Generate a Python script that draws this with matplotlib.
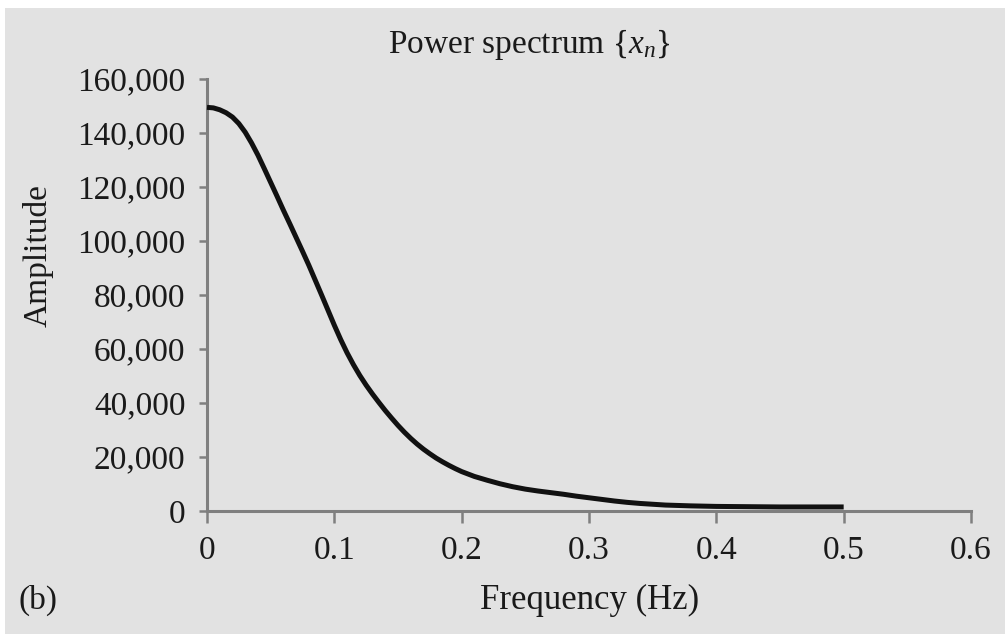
import matplotlib
matplotlib.use("Agg")
import matplotlib.pyplot as plt
from matplotlib.patches import Rectangle
from matplotlib.ticker import FuncFormatter

# Data
freq = [0.000, 0.005, 0.010, 0.015, 0.020, 0.025, 0.030, 0.035, 0.040, 0.045,
        0.050, 0.055, 0.060, 0.065, 0.070, 0.075, 0.080, 0.085, 0.090, 0.095,
        0.100, 0.105, 0.110, 0.115, 0.120, 0.125, 0.130, 0.135, 0.140, 0.145,
        0.150, 0.155, 0.160, 0.165, 0.170, 0.175, 0.180, 0.185, 0.190, 0.195,
        0.200, 0.21, 0.22, 0.23, 0.24, 0.25, 0.26, 0.27, 0.28, 0.29,
        0.30, 0.31, 0.32, 0.33, 0.34, 0.35, 0.36, 0.38, 0.40, 0.45, 0.50]
amplitude = [149500, 149300, 148600, 147500, 145900, 143500, 140300, 136300, 131800, 126800,
             121700, 116600, 111400, 106400, 101300, 96200, 91000, 85500, 80000, 74400,
             68800, 63500, 58600, 54200, 50200, 46600, 43300, 40200, 37200, 34400,
             31700, 29200, 26900, 24800, 22900, 21200, 19600, 18200, 16900, 15700,
             14600, 12800, 11400, 10100, 9000, 8100, 7400, 6800, 6200, 5500,
             4900, 4300, 3700, 3200, 2800, 2500, 2200, 1900, 1700, 1500, 1500]
xticks = [0, 0.1, 0.2, 0.3, 0.4, 0.5, 0.6]
yticks = [0, 20000, 40000, 60000, 80000, 100000, 120000, 140000, 160000]

plt.rcParams['font.family'] = ['Liberation Serif', 'DejaVu Serif']
plt.rcParams['mathtext.fontset'] = 'custom'
plt.rcParams['mathtext.rm'] = 'Liberation Serif'
plt.rcParams['mathtext.it'] = 'Liberation Serif:italic'

W, H = 1005, 634
bg = '#e2e2e2'
txt = '#1a1a1a'
spine_c = '#7f7f7f'

fig = plt.figure(figsize=(W / 100, H / 100), dpi=100)
fig.patch.set_facecolor('white')
fig.patches.append(Rectangle((5 / W, 0), 1 - 5 / W, 1 - 8 / H, transform=fig.transFigure,
                             facecolor=bg, edgecolor='none', zorder=-10))

ax = fig.add_axes([207 / W, 1 - 511 / H, (971 - 207) / W, (511 - 79) / H])
ax.set_facecolor(bg)
ax.plot(freq, amplitude, color='#111111', lw=3.6, solid_capstyle='butt',
        solid_joinstyle='round', clip_on=False, zorder=3)

ax.set_xlim(0, 0.6)
ax.set_ylim(0, 160000)
ax.set_xticks(xticks)
ax.set_yticks(yticks)
ax.xaxis.set_major_formatter(FuncFormatter(lambda v, p: '0' if v == 0 else f'{v:.1f}'))
ax.yaxis.set_major_formatter(FuncFormatter(lambda v, p: f'{int(v):,}'))

for s in ['top', 'right']:
    ax.spines[s].set_visible(False)
for s in ['left', 'bottom']:
    ax.spines[s].set_color(spine_c)
    ax.spines[s].set_linewidth(2.2)

ax.tick_params(axis='x', direction='out', length=8.5, width=1.8, color=spine_c,
               labelsize=24, labelcolor=txt, pad=9)
ax.tick_params(axis='y', direction='out', length=5.5, width=1.8, color=spine_c,
               labelsize=24, labelcolor=txt, pad=10)

fig.text(529 / W, 1 - 45 / H, r'Power spectrum $\{x_n\}$', ha='center', va='center',
         fontsize=24, color=txt)
fig.text(38 / W, 1 - 256 / H, 'Amplitude', ha='center', va='center', rotation=90,
         fontsize=24, color=txt)
fig.text(590 / W, 1 - 600 / H, 'Frequency (Hz)', ha='center', va='center',
         fontsize=25, color=txt)
fig.text(18 / W, 1 - 600 / H, '(b)', ha='left', va='center', fontsize=24, color=txt)

fig.savefig('out.png', dpi=100, facecolor=fig.get_facecolor())
